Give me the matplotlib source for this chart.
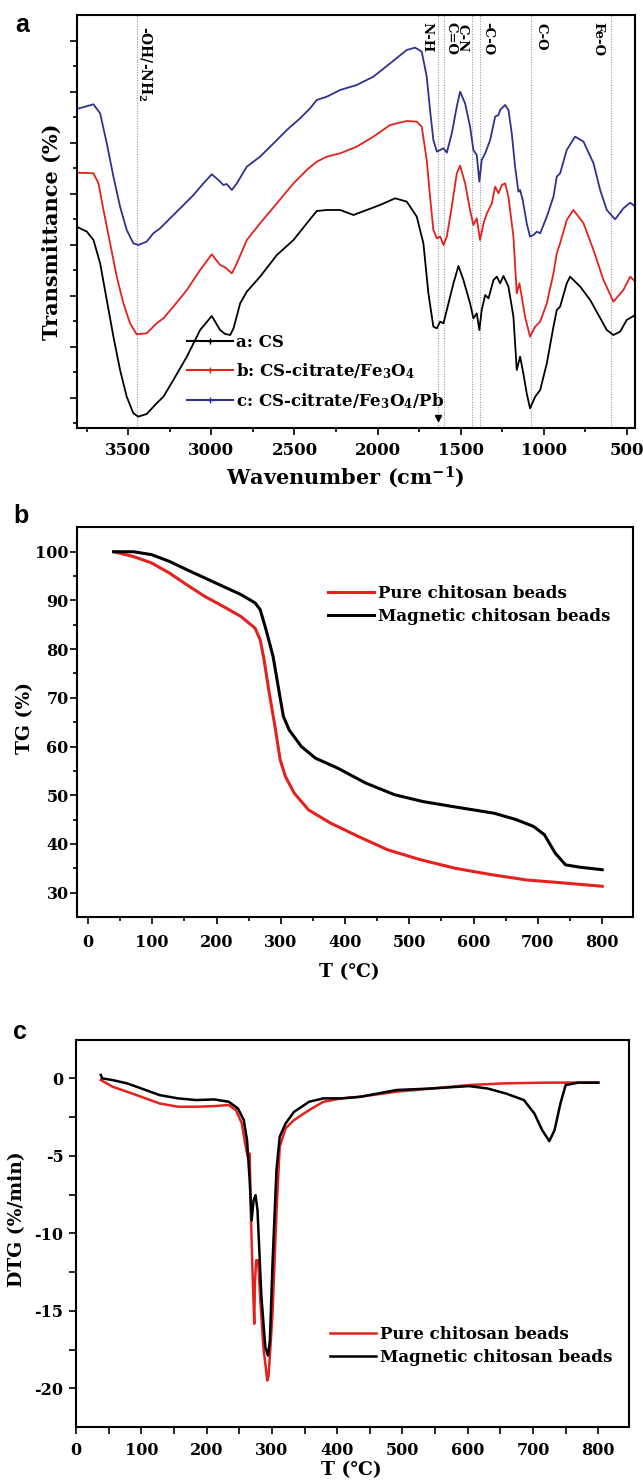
import matplotlib
matplotlib.use("Agg")
import matplotlib.pyplot as plt
from matplotlib.lines import Line2D
from matplotlib.ticker import MultipleLocator, FixedLocator

plt.rcParams['font.family'] = ['DejaVu Serif', 'Noto Sans CJK SC']
plt.rcParams['font.weight'] = 'bold'
plt.rcParams['axes.labelweight'] = 'bold'
plt.rcParams['mathtext.fontset'] = 'dejavuserif'
plt.rcParams['mathtext.default'] = 'bf'
plt.rcParams['axes.unicode_minus'] = False

# ---------------- Panel a: FTIR ----------------
wn_a = [3811, 3750, 3710, 3670, 3630, 3590, 3550, 3510, 3470, 3440, 3390, 3330, 3289, 3229, 3148,
        3068, 2998, 2948, 2918, 2887, 2867, 2827, 2787, 2707, 2606, 2506, 2426, 2366, 2305, 2225,
        2145, 2065, 1985, 1894, 1824, 1764, 1724, 1694, 1664, 1643, 1623, 1603, 1573, 1543, 1513,
        1483, 1443, 1423, 1403, 1387, 1373, 1352, 1332, 1302, 1282, 1262, 1242, 1212, 1182, 1162,
        1142, 1126, 1102, 1082, 1051, 1021, 981, 941, 921, 901, 861, 841, 780, 720, 670,
        620, 580, 540, 500, 449]
tr_a = [64.0, 62.5, 60.0, 53.0, 42.0, 31.0, 21.0, 13.0, 8.0, 7.0, 7.8, 11.0, 13.0, 18.0, 25.0,
        33.0, 37.2, 33.0, 31.8, 31.5, 33.5, 41.0, 44.5, 49.0, 55.5, 60.0, 65.0, 68.7, 69.0, 69.0,
        67.5, 69.0, 70.5, 72.5, 71.5, 67.0, 59.0, 44.0, 34.0, 33.5, 35.5, 35.0, 41.0, 47.0, 52.2,
        48.0, 41.0, 36.5, 38.0, 33.0, 39.0, 43.5, 42.5, 48.0, 49.0, 47.0, 49.2, 46.0, 37.0, 21.0,
        25.0, 21.0, 14.0, 9.5, 13.0, 15.0, 23.0, 34.0, 39.0, 40.0, 47.0, 49.0, 46.0, 42.0, 37.5,
        33.0, 31.5, 32.5, 36.0, 37.5]

wn_b = [3811, 3710, 3680, 3650, 3610, 3570, 3530, 3490, 3450, 3390, 3330, 3289, 3229, 3148, 3068,
        2998, 2948, 2918, 2877, 2847, 2787, 2707, 2606, 2506, 2426, 2366, 2305, 2225, 2125, 2025,
        1924, 1824, 1764, 1734, 1704, 1684, 1664, 1643, 1623, 1603, 1583, 1553, 1523, 1503, 1473,
        1443, 1423, 1403, 1383, 1362, 1342, 1312, 1292, 1272, 1252, 1232, 1212, 1182, 1162, 1146,
        1132, 1112, 1082, 1051, 1021, 981, 941, 921, 901, 861, 821, 760, 700, 640, 580,
        520, 479, 449]
tr_b = [80.2, 80.0, 77.0, 69.0, 59.0, 49.0, 41.0, 35.0, 31.7, 32.0, 35.0, 36.5, 40.0, 45.0, 51.0,
        55.7, 52.5, 51.8, 50.0, 53.0, 60.0, 65.0, 71.0, 77.0, 81.0, 83.5, 85.0, 86.0, 88.0, 91.0,
        94.5, 95.7, 95.5, 94.0, 84.0, 73.0, 63.0, 60.5, 61.0, 58.5, 61.0, 70.0, 80.0, 82.3, 77.0,
        69.0, 64.5, 66.5, 60.0, 65.0, 68.0, 71.0, 76.0, 74.0, 76.5, 77.0, 73.0, 61.0, 44.0, 47.0,
        43.0, 37.0, 31.0, 34.0, 35.5, 41.0, 50.0, 56.0, 59.0, 66.0, 69.0, 65.0, 57.0, 48.0, 41.5,
        45.0, 49.0, 47.5]

wn_c = [3811, 3710, 3670, 3630, 3590, 3550, 3510, 3470, 3440, 3390, 3350, 3309, 3249, 3168, 3108,
        3048, 2998, 2958, 2928, 2908, 2877, 2847, 2787, 2707, 2626, 2546, 2466, 2406, 2366, 2305,
        2225, 2125, 2025, 1924, 1824, 1774, 1734, 1704, 1684, 1664, 1643, 1623, 1603, 1583, 1553,
        1523, 1503, 1473, 1443, 1423, 1403, 1387, 1373, 1352, 1322, 1292, 1272, 1262, 1232, 1212,
        1192, 1172, 1152, 1142, 1126, 1102, 1082, 1061, 1041, 1021, 981, 941, 921, 901, 861,
        811, 760, 700, 660, 620, 570, 520, 479, 449]
tr_c = [99.3, 100.7, 98.0, 89.0, 79.0, 70.0, 63.0, 59.0, 58.5, 59.5, 62.0, 63.5, 66.5, 70.5, 73.5,
        77.0, 79.7, 78.0, 76.5, 76.8, 75.0, 77.0, 82.0, 85.0, 89.0, 93.0, 96.5, 99.5, 102.0, 103.0,
        105.0, 106.5, 109.0, 113.0, 117.0, 117.7, 116.5, 109.0, 99.0, 90.0, 86.5, 87.0, 87.5, 86.2, 92.0,
        100.0, 104.5, 101.0, 94.0, 87.0, 85.5, 77.5, 84.0, 86.0, 90.0, 97.0, 97.5, 99.0, 100.5, 99.0,
        92.0, 82.0, 74.5, 75.0, 72.0, 65.0, 61.0, 61.5, 62.5, 62.0, 67.0, 73.0, 79.0, 80.0, 87.0,
        91.0, 89.5, 83.0, 75.0, 69.0, 66.2, 69.5, 71.2, 70.0]

ftir_labels = ['a: CS', 'b: CS-citrate/Fe$_3$O$_4$', 'c: CS-citrate/Fe$_3$O$_4$/Pb']
band_pos = [3450, 1637, 1598, 1434, 1383, 1077, 596]
band_text = ['-OH/-NH$_2$', 'N-H', 'C-N\nC=O', '-C-O', 'C-O', 'Fe-O']
# line each label is anchored to, offset (pt), top (axes frac)
band_anchor = [3450, 1637, 1598, 1383, 1077, 596]
band_dx = [6.0, -7.8, 8.6, 5.8, 7.4, -9.1]
band_top = [0.974, 0.983, 0.983, 0.983, 0.981, 0.983]

# ---------------- Panel b: TG ----------------
tg_T_pure = [40, 71, 99, 127, 154, 182, 210, 238, 260, 268, 274, 282, 291, 299, 307, 321, 343, 377,
             421, 466, 516, 571, 627, 682, 738, 800]
tg_pure = [100.0, 99.0, 97.7, 95.6, 93.2, 90.8, 88.8, 86.7, 84.3, 81.9, 77.8, 71.0, 64.1, 57.3, 53.9,
           50.4, 47.0, 44.3, 41.5, 38.8, 36.8, 35.0, 33.7, 32.6, 32.0, 31.3]
tg_T_mag = [40, 71, 99, 127, 154, 182, 210, 238, 260, 268, 277, 288, 296, 304, 313, 332, 354, 388,
            432, 477, 521, 566, 599, 632, 666, 693, 710, 727, 743, 766, 800]
tg_mag = [100.0, 100.0, 99.4, 98.0, 96.3, 94.6, 92.9, 91.2, 89.5, 88.1, 84.0, 78.5, 72.3, 66.2, 63.4,
          60.0, 57.6, 55.6, 52.5, 50.1, 48.7, 47.7, 47.0, 46.3, 45.0, 43.6, 41.9, 38.1, 35.7, 35.2, 34.7]

# ---------------- Panel c: DTG ----------------
dtg_T_pure = [38, 56, 78, 100, 128, 156, 184, 212, 234, 245, 254, 259, 263, 266, 268, 270, 273, 274,
              276, 279, 282, 287, 293, 295, 301, 307, 312, 321, 334, 357, 379, 407, 435, 491, 546,
              602, 658, 714, 800]
dtg_pure = [-0.11, -0.54, -0.86, -1.19, -1.62, -1.83, -1.83, -1.79, -1.72, -2.05, -2.91, -4.20, -5.06,
            -4.85, -8.94, -11.96, -15.84, -13.25, -11.74, -11.74, -14.1, -17.35, -19.5, -19.2, -15.2,
            -8.73, -4.42, -3.23, -2.69, -2.05, -1.51, -1.29, -1.19, -0.86, -0.65, -0.43, -0.32, -0.28, -0.26]
dtg_T_mag = [38, 40, 56, 78, 100, 128, 156, 184, 212, 234, 248, 257, 262, 266, 269, 272, 275, 278, 284,
             290, 294, 297, 301, 307, 312, 321, 334, 357, 379, 407, 435, 463, 491, 546, 602, 630, 658,
             686, 702, 714, 725, 733, 742, 750, 769, 800]
dtg_mag = [0.22, 0.0, -0.11, -0.32, -0.65, -1.08, -1.29, -1.40, -1.36, -1.51, -1.94, -2.69, -3.99, -6.57,
           -9.16, -7.87, -7.54, -8.51, -14.1, -17.35, -17.89, -16.9, -11.96, -5.93, -3.77, -2.91, -2.16,
           -1.51, -1.29, -1.29, -1.19, -0.97, -0.75, -0.65, -0.50, -0.65, -0.97, -1.40, -2.26, -3.34,
           -4.05, -3.34, -1.62, -0.43, -0.28, -0.28]

tg_labels = ['Pure chitosan beads', 'Magnetic chitosan beads']

RED = '#e5211d'
BLUE = '#2e3192'
TICK_FS = 11.5
LABEL_FS = 13.5

fig = plt.figure(figsize=(6.43, 14.83), dpi=100)


def style_axes(ax, lw=1.5):
    for s in ax.spines.values():
        s.set_linewidth(lw)
    ax.tick_params(which='both', direction='out', width=1.2, top=False, right=False,
                   labelsize=TICK_FS)
    ax.tick_params(which='major', length=5)
    ax.tick_params(which='minor', length=3)


# ---- panel a ----
ax1 = fig.add_axes([0.1193, 0.7114, 0.8683, 0.2785])
for wn, tr, col in [(wn_a, tr_a, 'black'), (wn_b, tr_b, RED), (wn_c, tr_c, BLUE)]:
    ax1.plot(wn, tr, color=col, lw=1.3)
ax1.set_xlim(3811, 450)
ax1.set_ylim(3.6, 127.5)
ax1.xaxis.set_major_locator(MultipleLocator(500))
ax1.xaxis.set_minor_locator(MultipleLocator(250))
ax1.yaxis.set_major_locator(FixedLocator([12.65 + 15.3 * k for k in range(8)]))
ax1.yaxis.set_minor_locator(FixedLocator([5.0 + 15.3 * k for k in range(8)]))
style_axes(ax1)
ax1.tick_params(axis='y', labelleft=False)
ax1.tick_params(axis='x', pad=5, labelsize=12)
for w in band_pos:
    ax1.axvline(w, color='#9a9a9a', ls=(0, (1, 1.3)), lw=0.8, zorder=0)
for txt, w, dx, top in zip(band_text, band_anchor, band_dx, band_top):
    ax1.annotate(txt, xy=(w, top), xycoords=('data', 'axes fraction'), xytext=(dx, 0),
                 textcoords='offset points', rotation=270, ha='center', va='top',
                 linespacing=0.85, fontsize=9.5 if txt != band_text[0] else 10)
ax1.plot([band_pos[1]], [0.025], marker='v', color='black', ms=4.5,
         transform=ax1.get_xaxis_transform(), clip_on=False)
handles = [Line2D([0], [0], color=c, lw=1.5, marker='+', ms=4, mew=1)
           for c in ['black', RED, BLUE]]
ax1.legend(handles, ftir_labels, loc='upper left', bbox_to_anchor=(0.197, 0.228),
           frameon=False, borderpad=0, borderaxespad=0, handlelength=2.8,
           handletextpad=0.15, labelspacing=0.62, fontsize=12, numpoints=1)
ax1.set_xlabel('Wavenumber (cm$^{-1}$)', fontsize=15)
ax1.set_ylabel('Transmittance (%)', fontsize=15)
ax1.xaxis.label.set_va('center')
ax1.yaxis.label.set_va('center')
ax1.xaxis.set_label_coords(0.482, -0.12)
ax1.yaxis.set_label_coords(-0.044, 0.475)

# ---- panel b ----
ax2 = fig.add_axes([0.1198, 0.3817, 0.8647, 0.2630])
ax2.plot(tg_T_pure, tg_pure, color=RED, lw=2.2, label=tg_labels[0])
ax2.plot(tg_T_mag, tg_mag, color='black', lw=2.2, label=tg_labels[1])
ax2.set_xlim(-17, 848)
ax2.set_ylim(25, 105.1)
ax2.xaxis.set_major_locator(MultipleLocator(100))
ax2.xaxis.set_minor_locator(MultipleLocator(50))
ax2.yaxis.set_major_locator(MultipleLocator(10))
ax2.yaxis.set_minor_locator(FixedLocator([35, 45, 55, 65, 75, 85, 95]))
style_axes(ax2)
ax2.tick_params(axis='y', pad=1)
ax2.tick_params(axis='x', pad=7)
ax2.legend(loc='upper left', bbox_to_anchor=(0.451, 0.852), frameon=False, borderpad=0,
           borderaxespad=0, handlelength=2.75, handletextpad=0.25, labelspacing=0.4,
           fontsize=12)
ax2.set_xlabel('T (℃)', fontsize=LABEL_FS)
ax2.set_ylabel('TG (%)', fontsize=LABEL_FS)
ax2.xaxis.label.set_va('center')
ax2.yaxis.label.set_va('center')
ax2.xaxis.set_label_coords(0.49, -0.141)
ax2.yaxis.set_label_coords(-0.0935, 0.51)

# ---- panel c ----
ax3 = fig.add_axes([0.1182, 0.03776, 0.8600, 0.2610])
ax3.plot(dtg_T_pure, dtg_pure, color=RED, lw=1.8, label=tg_labels[0])
ax3.plot(dtg_T_mag, dtg_mag, color='black', lw=1.8, label=tg_labels[1])
ax3.set_xlim(0, 847)
ax3.set_ylim(-22.5, 2.48)
ax3.xaxis.set_major_locator(MultipleLocator(100))
ax3.xaxis.set_minor_locator(MultipleLocator(50))
ax3.yaxis.set_major_locator(MultipleLocator(5))
ax3.yaxis.set_minor_locator(FixedLocator([-2.5, -7.5, -12.5, -17.5]))
style_axes(ax3)
ax3.tick_params(which='minor', length=5)
ax3.tick_params(axis='y', pad=4)
ax3.tick_params(axis='x', pad=6)
ax3.legend(loc='upper left', bbox_to_anchor=(0.459, 0.262), frameon=False, borderpad=0,
           borderaxespad=0, handlelength=2.75, handletextpad=0.25, labelspacing=0.4,
           fontsize=12)
ax3.set_xlabel('T (℃)', fontsize=LABEL_FS)
ax3.set_ylabel('DTG (%/min)', fontsize=LABEL_FS)
ax3.xaxis.label.set_va('center')
ax3.yaxis.label.set_va('center')
ax3.xaxis.set_label_coords(0.498, -0.111)
ax3.yaxis.set_label_coords(-0.107, 0.537)

# panel letters
for letter, (px, py) in zip(['a', 'b', 'c'], [(22, 25), (21, 516), (20, 1032)]):
    fig.text(px / 643, 1 - py / 1483, letter, family='Liberation Sans', weight='bold',
             fontsize=18, ha='center', va='center')

fig.savefig('out.png', dpi=100)
